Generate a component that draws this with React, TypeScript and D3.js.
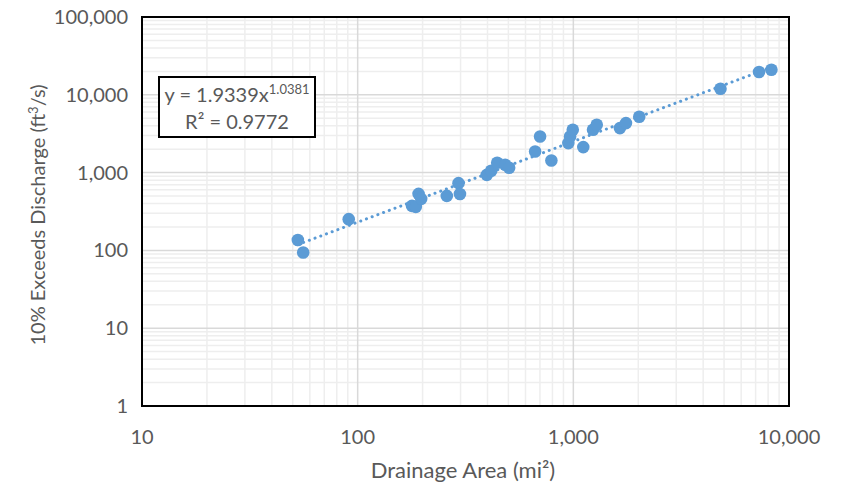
import React from 'react';
import * as d3 from 'd3';

// Drainage area (mi²) and 10% exceeds discharge (ft³/s)
const areas = [52.8, 55.9, 90.9, 178.6, 186, 191.6, 197, 259, 293.5, 298, 397, 416, 443.5, 483, 504, 665, 701, 791, 948, 966, 994, 1112, 1234, 1284, 1644, 1754, 2021, 4812, 7263, 8288];
const discharges = [136, 94, 252, 374, 363, 533, 460, 502, 732, 530, 936, 1054, 1336, 1259, 1152, 1867, 2911, 1430, 2394, 2911, 3550, 2128, 3550, 4118, 3733, 4330, 5218, 11960, 19610, 20990];

const xTicks = [10, 100, 1000, 10000];
const yTicks = [1, 10, 100, 1000, 10000, 100000];
const trendA = 1.9339;
const trendB = 1.0381;
const eqMain = 'y = 1.9339x';
const eqExp = '1.0381';
const r2Label = 'R² = 0.9772';
const xTitle = 'Drainage Area (mi²)';

const FONT = 'Lato, "Open Sans", sans-serif';
const TXT = '#595959';
const BLUE = '#5b9bd5';

function minorTicks(domain: [number, number]) {
  const out: number[] = [];
  for (let d = domain[0]; d < domain[1]; d *= 10) {
    for (let k = 2; k <= 9; k++) out.push(d * k);
  }
  return out;
}

export default function App() {
  const W = 842, H = 487;
  const L = 142, T = 17, R = 789, B = 406;
  const x = d3.scaleLog().domain([10, 10000]).range([L, R]);
  const y = d3.scaleLog().domain([1, 100000]).range([B, T]);
  const fmt = d3.format(',');
  const xMin = d3.min(areas) as number;
  const xMax = d3.max(areas) as number;
  const trend = d3.line<number>().x((v) => x(v)).y((v) => y(trendA * Math.pow(v, trendB)));

  return (
    <svg width={W} height={H} style={{ position: 'absolute', left: 0, top: 0 }} fontFamily={FONT}>
      <rect x={0} y={0} width={W} height={H} fill="#fff" />
      {minorTicks([10, 10000]).map((v) => (
        <line key={'xm' + v} x1={x(v)} x2={x(v)} y1={T} y2={B} stroke="#eeeeee" strokeWidth={1.5} />
      ))}
      {minorTicks([1, 100000]).map((v) => (
        <line key={'ym' + v} x1={L} x2={R} y1={y(v)} y2={y(v)} stroke="#eeeeee" strokeWidth={1.5} />
      ))}
      {xTicks.map((v) => (
        <line key={'xM' + v} x1={x(v)} x2={x(v)} y1={T} y2={B} stroke="#d9d9d9" strokeWidth={1.5} />
      ))}
      {yTicks.map((v) => (
        <line key={'yM' + v} x1={L} x2={R} y1={y(v)} y2={y(v)} stroke="#d9d9d9" strokeWidth={1.5} />
      ))}
      <path d={trend([xMin, xMax]) || ''} fill="none" stroke={BLUE} strokeWidth={3} strokeDasharray="0.1 6" strokeLinecap="round" />
      {areas.map((a, i) => (
        <circle key={i} cx={x(a)} cy={y(discharges[i])} r={6.3} fill={BLUE} />
      ))}
      <rect x={L} y={T} width={R - L} height={B - T} fill="none" stroke="#000" strokeWidth={2} />
      {yTicks.map((v) => (
        <text key={'yl' + v} x={128} y={y(v)} dy="0.35em" textAnchor="end" fontSize={20} fill={TXT}>{fmt(v)}</text>
      ))}
      {xTicks.map((v) => (
        <text key={'xl' + v} x={x(v)} y={444} textAnchor="middle" fontSize={20} fill={TXT}>{fmt(v)}</text>
      ))}
      <text x={463} y={478} textAnchor="middle" fontSize={22} fill={TXT}>{xTitle}</text>
      <text transform="translate(45,215) rotate(-90)" textAnchor="middle" fontSize={20} fill={TXT}>
        10% Exceeds Discharge (ft<tspan fontSize={13} dy={-7}>3</tspan><tspan dy={7}>/s)</tspan>
      </text>
      <rect x={159} y={77} width={156} height={60} fill="#fff" stroke="#000" strokeWidth={2} />
      <text x={237} y={102} textAnchor="middle" fontSize={20} fill={TXT}>
        {eqMain}<tspan fontSize={13} dy={-8}>{eqExp}</tspan>
      </text>
      <text x={237} y={129} textAnchor="middle" fontSize={20} fill={TXT}>{r2Label}</text>
    </svg>
  );
}
